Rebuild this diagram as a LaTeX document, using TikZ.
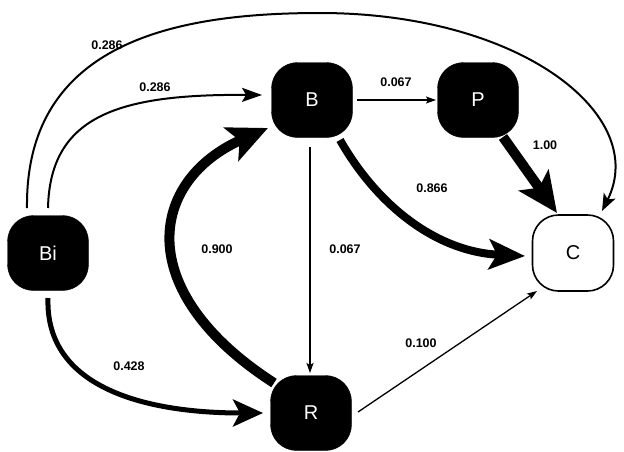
\documentclass[tikz,border=0pt]{standalone}
\usepackage{fontspec}
\setmainfont{Liberation Sans}
\usetikzlibrary{arrows.meta}
\begin{document}
\begin{tikzpicture}[x=1pt,y=-1pt,
  blk/.style={rounded corners=26pt, fill=black, draw=black, minimum width=81pt, minimum height=75pt, text=white, font=\fontsize{20}{20}\selectfont, inner sep=0pt},
  wht/.style={rounded corners=26pt, fill=white, draw=black, line width=1.6pt, minimum width=81pt, minimum height=76pt, text=black, font=\fontsize{20}{20}\selectfont, inner sep=0pt},
  lbl/.style={font=\fontsize{12.5}{13}\selectfont\bfseries, inner sep=0pt},
  e/.style={draw=black, line cap=butt}
]
\useasboundingbox (0,0) rectangle (624,451);
% nodes
\node[blk] (B) at (312,100) {B};
\node[blk] (P) at (478,100) {P};
\node[wht] (C) at (573,253) {C};
\node[blk] (Bi) at (48,253) {Bi};
\node[blk] (R) at (311,413) {R};
% edges
\draw[e, line width=2pt, -{Stealth[length=17pt,width=13pt,inset=4pt]}]
  ([shift={(-21,-45)}]Bi.center) .. controls (25,40) and (180,13) .. (320,13)
  .. controls (520,13) and (650,115) .. ([shift={(29,-42)}]C.center);
\draw[e, line width=2pt, -{Stealth[length=20pt,width=14pt,inset=4pt]}]
  ([shift={(0,-45)}]Bi.center) .. controls (50,115) and (120,94) .. ([shift={(-50,-5)}]B.center);
\draw[e, line width=5pt, -{Stealth[length=30pt,width=27pt,inset=7pt]}]
  ([shift={(0,45)}]Bi.center) .. controls (45,390) and (150,413) .. ([shift={(-48,0)}]R.center);
\draw[e, line width=10pt, -{Stealth[length=40pt,width=36pt,inset=9pt]}]
  ([shift={(-37,-30)}]R.center) .. controls (130,290) and (150,180) .. ([shift={(-44,28)}]B.center);
\draw[e, line width=8pt, -{Stealth[length=36pt,width=30pt,inset=8pt]}]
  ([shift={(28,40)}]B.center) .. controls (380,210) and (440,252) .. ([shift={(-48,3)}]C.center);
\draw[e, line width=10pt, -{Stealth[length=40pt,width=36pt,inset=9pt]}]
  ([shift={(25,37)}]P.center) -- ([shift={(-16,-40)}]C.center);
\draw[e, line width=1.3pt, -{Stealth[length=10pt,width=7pt,inset=2pt]}]
  ([shift={(45,0)}]B.center) -- ([shift={(-42,0)}]P.center);
\draw[e, line width=1.3pt, -{Stealth[length=10pt,width=7pt,inset=2pt]}]
  ([shift={(-2,47)}]B.center) -- ([shift={(-1,-40)}]R.center);
\draw[e, line width=1.3pt, -{Stealth[length=10pt,width=7pt,inset=2pt]}]
  ([shift={(47,-1)}]R.center) -- ([shift={(-36,38)}]C.center);
% labels
\node[lbl] (l1) at (107,45) {0.286};
\node[lbl] (l2) at (155,87) {0.286};
\node[lbl] (l3) at (396,82) {0.067};
\node[lbl] (l4) at (545,145) {1.00};
\node[lbl] (l5) at (432,188) {0.866};
\node[lbl] (l6) at (217,249) {0.900};
\node[lbl] (l7) at (345,249) {0.067};
\node[lbl] (l8) at (129,366) {0.428};
\node[lbl] (l9) at (421,343) {0.100};
\end{tikzpicture}
\end{document}
